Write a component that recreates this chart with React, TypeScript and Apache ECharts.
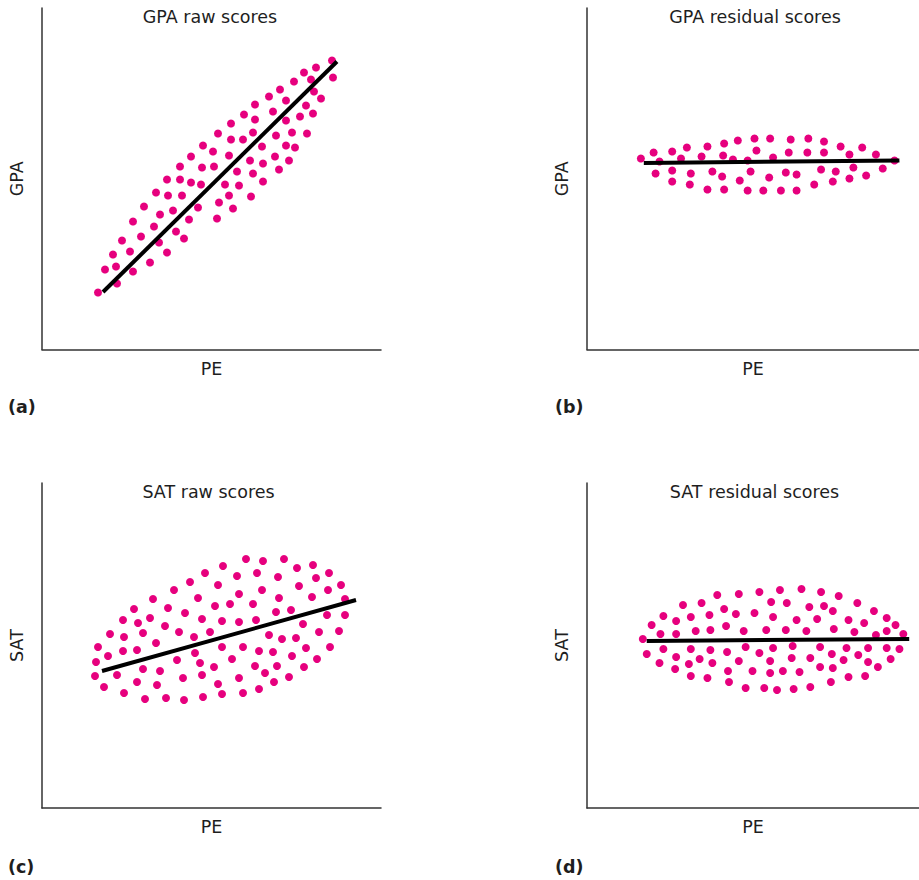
import React, { useEffect, useRef } from "react";
import * as echarts from "echarts";

const panelTitles = ["GPA raw scores", "GPA residual scores", "SAT raw scores", "SAT residual scores"];
const panelLetters = ["(a)", "(b)", "(c)", "(d)"];
const xAxisNames = ["PE", "PE", "PE", "PE"];
const yAxisNames = ["GPA", "GPA", "SAT", "SAT"];

const gpaRaw: number[][] = [
  [56,57],[75,66],[63,80],[74,83],[91,78],[71,95],[88,98],[80,109],[99,113],[108,87],[117,107],[125,97],[91,128],[112,123],[118,135],[134,118],[142,111],[102,143],[131,139],[147,130],[156,142],[114,157],[126,154],[140,154],[125,170],[138,170],[149,167],[159,165],[138,183],[160,182],[149,193],[161,204],[171,198],[172,183],[176,216],[175,131],
  [290,289],[274,282],[291,272],[262,277],[269,270],[252,268],[238,260],[227,253],[272,258],[279,251],[244,249],[213,245],[264,244],[231,238],[271,236],[202,235],[258,233],[213,230],[244,229],[189,226],[211,217],[250,217],[265,216],[189,210],[201,210],[234,214],[187,194],[220,203],[244,204],[253,202],[233,193],[247,189],[208,189],[221,186],[195,178],[211,176],[237,180],[183,165],[197,164],[221,168],[187,154],[209,153],[177,147],[191,141]
];
const gpaResidual: number[][] = [
  [55,191],[68,197],[74,188],[70,176],[87,198],[96,191],[87,179],[87,168],[102,202],[106,176],[105,165],[123,203],[117,193],[128,178],[123,160],[140,206],[139,194],[138,173],[140,160],[154,209],[149,190],[156,169],[171,211],[173,199],[164,189],[167,178],[164,159],[180,159],[187,211],[186,172],[208,210],[226,211],[242,208],[190,192],[206,197],[225,197],[242,197],[259,203],[281,202],[268,195],[295,195],[314,189],[203,177],[214,175],[198,159],[214,159],[232,165],[239,180],[254,178],[272,182],[251,168],[268,171],[285,174],[302,181]
];
const satRaw: number[][] = [
  [181,242],[163,235],[148,226],[176,223],[132,218],[111,209],[156,210],[92,199],[126,200],[173,202],[143,195],[81,188],[96,185],[108,190],[160,189],[180,187],[123,182],[68,174],[82,171],[101,175],[137,176],[168,176],[152,171],[56,161],[114,165],[81,157],[95,158],[180,161],[66,152],[153,155],[54,146],[135,148],[158,145],[101,139],[118,137],[172,141],[53,132],[75,133],[141,130],[160,133],[62,121],[95,126],[115,123],[176,124],[82,115],[103,109],[124,110],[142,108],[161,111],[180,114],
  [204,249],[221,247],[242,249],[215,235],[255,240],[271,243],[195,232],[236,231],[274,230],[287,235],[220,218],[257,222],[286,218],[299,223],[197,214],[237,210],[270,211],[303,209],[188,204],[211,204],[234,196],[249,198],[285,193],[303,193],[197,186],[214,188],[261,184],[227,173],[240,169],[254,170],[277,176],[297,177],[201,161],[217,157],[231,156],[264,160],[288,161],[190,149],[250,152],[275,149],[213,142],[223,135],[235,142],[262,141],[197,130],[247,131],[232,126],[201,115],[217,119]
];
const satResidual: number[][] = [
  [133,213],[155,214],[176,216],[98,203],[117,205],[188,206],[78,192],[91,187],[106,191],[125,193],[140,199],[152,194],[171,195],[190,191],[66,183],[75,174],[91,174],[111,177],[126,178],[142,182],[160,177],[183,178],[57,169],[61,154],[78,159],[106,159],[126,158],[143,156],[162,161],[176,155],[190,160],[74,145],[91,151],[104,144],[115,149],[128,145],[155,147],[187,147],[90,139],[144,137],[169,137],[187,135],[106,132],[123,130],[145,126],[162,120],[181,120],[194,118],
  [197,218],[219,219],[239,216],[257,212],[204,205],[227,201],[242,202],[251,197],[276,205],[293,197],[214,188],[235,189],[267,188],[283,185],[306,190],[315,183],[203,178],[224,177],[252,179],[273,176],[295,173],[306,177],[323,174],[210,162],[238,161],[250,154],[265,160],[277,153],[287,160],[306,160],[319,159],[209,150],[228,150],[262,148],[287,146],[310,149],[200,137],[217,136],[238,141],[251,140],[297,141],[267,131],[284,132],[211,119],[228,121],[249,126]
];

const gpaRawFit: number[][] = [[61, 57.5], [295, 288]];
const gpaResidualFit: number[][] = [[58, 186.5], [319, 189]];
const satRawFit: number[][] = [[60, 137], [314, 208]];
const satResidualFit: number[][] = [[61, 167], [329, 169]];

const panelPoints = [gpaRaw, gpaResidual, satRaw, satResidual];
const panelFits = [gpaRawFit, gpaResidualFit, satRawFit, satResidualFit];

const grids = [
  { left: 42, top: 8, width: 339, height: 341.5 },
  { left: 587, top: 8, width: 339, height: 341.5 },
  { left: 42, top: 483, width: 339, height: 325 },
  { left: 587, top: 483, width: 339, height: 325 },
];
const titlePos = [[210, 17], [755, 17], [208.5, 492], [754.5, 492]];
const letterPos = [[8, 407], [555, 407], [8, 867], [555, 867]];

const FONT = "DejaVu Sans";
const TEXT_COLOR = "#1e1e1e";
const DOT_COLOR = "#E6007E";

export default function App() {
  const ref = useRef<HTMLDivElement>(null);
  useEffect(() => {
    if (!ref.current) return;
    const chart = echarts.init(ref.current, undefined, { renderer: "svg" });
    const axisLine = { show: true, lineStyle: { color: "#333", width: 1.5 } };
    const option: any = {
      animation: false,
      grid: grids.map((g) => ({ ...g, containLabel: false })),
      xAxis: grids.map((g, i) => ({
        type: "value",
        gridIndex: i,
        min: 0,
        max: g.width,
        name: xAxisNames[i],
        nameLocation: "middle",
        nameGap: 10,
        nameTextStyle: { fontFamily: FONT, fontSize: 17.5, color: TEXT_COLOR },
        axisLine,
        axisTick: { show: false },
        axisLabel: { show: false },
        splitLine: { show: false },
      })),
      yAxis: grids.map((g, i) => ({
        type: "value",
        gridIndex: i,
        min: 0,
        max: g.height,
        name: yAxisNames[i],
        nameLocation: "middle",
        nameGap: 16,
        nameRotate: 90,
        nameTextStyle: { fontFamily: FONT, fontSize: 17.5, color: TEXT_COLOR },
        axisLine,
        axisTick: { show: false },
        axisLabel: { show: false },
        splitLine: { show: false },
      })),
      series: [
        ...panelPoints.map((pts, i) => ({
          type: "scatter",
          xAxisIndex: i,
          yAxisIndex: i,
          data: pts,
          symbol: "circle",
          symbolSize: 8,
          itemStyle: { color: DOT_COLOR, opacity: 1 },
          z: 2,
        })),
        ...panelFits.map((pts, i) => ({
          type: "line",
          xAxisIndex: i,
          yAxisIndex: i,
          data: pts,
          symbol: "none",
          lineStyle: { color: "#000", width: 4 },
          z: 3,
        })),
      ],
      graphic: [
        ...panelTitles.map((t, i) => ({
          type: "text",
          x: titlePos[i][0],
          y: titlePos[i][1],
          style: {
            text: t,
            fontFamily: FONT,
            fontSize: 17.5,
            fill: TEXT_COLOR,
            align: "center",
            textAlign: "center",
            verticalAlign: "middle",
            textVerticalAlign: "middle",
          },
        })),
        ...panelLetters.map((t, i) => ({
          type: "text",
          x: letterPos[i][0],
          y: letterPos[i][1],
          style: {
            text: t,
            fontFamily: FONT,
            fontSize: 17.5,
            fontWeight: "bold",
            fill: TEXT_COLOR,
            align: "left",
            textAlign: "left",
            verticalAlign: "middle",
            textVerticalAlign: "middle",
          },
        })),
      ],
    };
    chart.setOption(option);
    return () => chart.dispose();
  }, []);
  return (
    <div
      ref={ref}
      style={{ position: "absolute", left: 0, top: 0, width: 919, height: 880, background: "#fff" }}
    />
  );
}
